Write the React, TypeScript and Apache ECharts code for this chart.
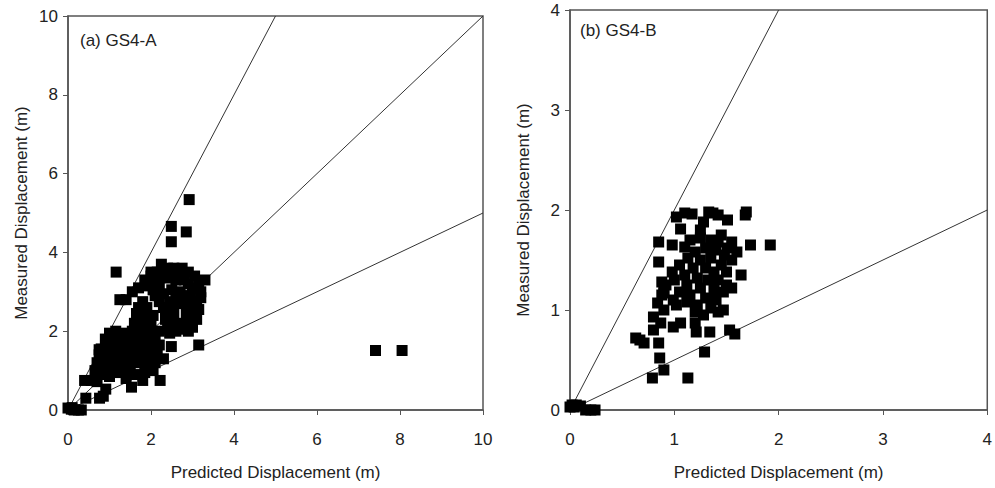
import React, { useEffect, useRef } from "react";
import * as echarts from "echarts";

// Panel (a) GS4-A : [predicted, measured] in metres
const gs4aPoints: [number, number][] = [
  [0, 0.05], [0.08, 0.02], [0.15, 0], [0.25, 0], [0.32, 0], [0.1, 0.06],
  [0.43, 0.3], [0.76, 0.3], [0.85, 0.35], [0.91, 0.53], [0.4, 0.75], [0.56, 0.75], [0.7, 0.72],
  [1.53, 0.58], [2.22, 0.75], [1.8, 0.75], [1.4, 0.8], [1.0, 0.85], [0.75, 0.9],
  [0.65, 1.0], [0.85, 1.05], [1.05, 1.0], [1.25, 0.95], [1.45, 0.95], [1.65, 0.9], [1.85, 0.95], [2.05, 1.0],
  [0.7, 1.2], [0.9, 1.2], [1.1, 1.2], [1.3, 1.2], [1.5, 1.15], [1.7, 1.2], [1.9, 1.2], [2.1, 1.2], [2.3, 1.3],
  [0.75, 1.4], [0.95, 1.4], [1.15, 1.4], [1.35, 1.4], [1.55, 1.4], [1.75, 1.4], [1.95, 1.4], [2.15, 1.45],
  [0.8, 1.55], [1.0, 1.6], [1.2, 1.6], [1.4, 1.6], [1.6, 1.6], [1.8, 1.6], [2.0, 1.6], [2.2, 1.65],
  [0.9, 1.8], [1.1, 1.8], [1.3, 1.8], [1.5, 1.8], [1.7, 1.8], [1.9, 1.8], [2.1, 1.8],
  [1.0, 1.95], [1.15, 2.0], [1.3, 1.95], [1.55, 2.0], [1.75, 2.0], [1.95, 2.05], [2.2, 2.0],
  [1.6, 2.2], [1.8, 2.25], [2.0, 2.25], [1.65, 2.45], [1.85, 2.4], [2.05, 2.4], [1.7, 2.6], [1.9, 2.6], [1.8, 2.75],
  [1.25, 2.8], [1.4, 2.8], [1.55, 3.0], [1.7, 3.1], [1.85, 3.3], [2.0, 3.4], [2.15, 3.5], [2.25, 3.7],
  [2.4, 3.6], [2.6, 3.5], [2.75, 3.6], [2.9, 3.5], [3.05, 3.4], [3.3, 3.3], [3.15, 3.2], [2.2, 3.2],
  [2.4, 3.35], [2.6, 3.3], [2.8, 3.3], [3.0, 3.1], [2.1, 2.9], [2.3, 2.95], [2.5, 3.05], [2.7, 3.0],
  [2.95, 2.9], [3.1, 2.75], [2.3, 2.6], [2.45, 2.75], [2.65, 2.7], [2.85, 2.7], [3.05, 2.5], [2.35, 2.3],
  [2.55, 2.45], [2.95, 2.35], [3.1, 2.3], [2.4, 2.05], [2.6, 2.0], [2.8, 2.1], [3.0, 2.1], [2.85, 2.45],
  [2.0, 3.5], [2.1, 3.3], [2.35, 3.45], [2.55, 3.6], [2.7, 3.4], [2.9, 3.2], [3.2, 3.0], [3.15, 2.55],
  [2.75, 2.2], [2.5, 2.2], [2.35, 2.5], [2.2, 2.75], [2.5, 2.55], [2.6, 2.85], [2.8, 2.9], [3.2, 2.85],
  [3.0, 2.7], [1.95, 3.15], [2.05, 3.05], [2.7, 2.05], [2.9, 2.0], [2.45, 1.95],
  [2.92, 5.34], [2.49, 4.66], [2.49, 4.27], [2.85, 4.52], [1.16, 3.5], [7.41, 1.51], [8.05, 1.51],
  [3.15, 1.65], [2.49, 1.61], [0.75, 1.53],
];

// Panel (b) GS4-B : [predicted, measured] in metres
const gs4bPoints: [number, number][] = [
  [0.0, 0.03], [0.02, 0.05], [0.06, 0.05], [0.1, 0.04], [0.04, 0.03], [0.15, 0.0], [0.2, 0.0], [0.24, 0.0],
  [0.63, 0.72], [0.71, 0.67], [0.67, 0.7], [0.85, 0.67], [0.86, 0.52], [0.9, 0.4], [0.79, 0.32], [1.13, 0.32],
  [1.29, 0.58], [0.8, 0.8], [0.87, 0.87], [0.99, 0.83], [1.06, 0.87], [1.2, 0.87], [1.21, 0.78], [1.34, 0.78],
  [0.8, 0.93], [0.9, 1.0], [0.84, 1.07], [0.9, 1.17], [0.99, 1.1], [1.58, 0.76], [1.53, 0.8],
  [1.02, 1.93], [1.1, 1.97], [1.17, 1.96], [1.33, 1.98], [1.37, 1.97], [1.42, 1.95], [1.51, 1.9],
  [1.69, 1.98], [1.68, 1.95], [1.06, 1.81], [1.28, 1.88], [1.25, 1.8], [0.85, 1.68], [0.98, 1.65],
  [1.1, 1.63], [1.73, 1.65], [1.92, 1.65], [1.45, 1.75], [1.55, 1.68], [1.51, 1.62], [0.85, 1.48],
  [0.88, 1.28], [0.88, 1.15], [0.98, 1.38], [1.64, 1.35], [1.55, 1.22],
  [1.15, 1.7], [1.25, 1.72], [1.35, 1.7], [1.42, 1.68], [1.3, 1.62], [1.4, 1.6], [1.2, 1.58], [1.48, 1.55],
  [1.13, 1.52], [1.25, 1.5], [1.35, 1.52], [1.45, 1.45], [1.05, 1.45], [1.18, 1.42], [1.3, 1.42], [1.38, 1.38],
  [1.5, 1.38], [1.1, 1.35], [1.22, 1.32], [1.32, 1.3], [1.42, 1.3], [1.0, 1.3], [0.92, 1.25], [1.12, 1.25],
  [1.25, 1.22], [1.38, 1.2], [1.47, 1.18], [0.9, 1.2], [1.05, 1.18], [1.15, 1.15], [1.3, 1.12], [1.4, 1.1],
  [1.22, 1.05], [1.35, 1.02], [1.47, 1.0], [1.42, 0.98], [1.2, 0.98], [1.28, 0.95], [1.12, 1.08], [1.02, 1.05],
  [1.5, 1.25], [1.55, 1.5], [1.6, 1.58],
];

// Reference lines (measured = k * predicted)
const gs4aLines: [number, number][][] = [
  [[0, 0], [5, 10]],
  [[0, 0], [10, 10]],
  [[0, 0], [10, 5]],
];
const gs4bLines: [number, number][][] = [
  [[0, 0], [2, 4]],
  [[0, 0], [4, 2]],
];

const panelTitles = ["(a) GS4-A", "(b) GS4-B"];
const xName = "Predicted Displacement (m)";
const yName = "Measured Displacement (m)";

const FONT = "Liberation Sans, Arial, sans-serif";
const AXIS_COLOR = "#555";

function axisCommon(max: number, interval: number, gridIndex: number, isX: boolean) {
  return {
    type: "value" as const,
    gridIndex,
    min: 0,
    max,
    interval,
    name: isX ? xName : yName,
    nameLocation: "middle" as const,
    nameGap: isX ? 54 : 38,
    nameTextStyle: { fontSize: 17, color: "#222", fontFamily: FONT },
    axisLine: { show: true, onZero: false, lineStyle: { color: AXIS_COLOR, width: 1.5 } },
    axisTick: { show: true, inside: false, length: 5, lineStyle: { color: AXIS_COLOR } },
    axisLabel: { fontSize: 17, color: "#222", fontFamily: FONT, margin: isX ? 21 : 10 },
    splitLine: { show: false },
  };
}

export default function App() {
  const ref = useRef<HTMLDivElement>(null);
  useEffect(() => {
    if (!ref.current) return;
    const chart = echarts.init(ref.current, null, { renderer: "svg" });
    const lineSeries = (data: [number, number][], idx: number) => ({
      type: "line" as const,
      xAxisIndex: idx,
      yAxisIndex: idx,
      data,
      symbol: "none",
      silent: true,
      lineStyle: { color: "#333", width: 1 },
      z: 1,
    });
    const scatterSeries = (data: [number, number][], idx: number) => ({
      type: "scatter" as const,
      xAxisIndex: idx,
      yAxisIndex: idx,
      data,
      symbol: "rect",
      symbolSize: 11,
      itemStyle: { color: "#000", opacity: 1 },
      z: 3,
    });
    chart.setOption({
      animation: false,
      backgroundColor: "#fff",
      grid: [
        { left: 68, top: 16, width: 415, height: 394, show: true, borderColor: AXIS_COLOR, borderWidth: 1.5, backgroundColor: "transparent" },
        { left: 570, top: 10, width: 423, height: 400, show: true, borderColor: AXIS_COLOR, borderWidth: 1.5, backgroundColor: "transparent" },
      ],
      xAxis: [axisCommon(10, 2, 0, true), axisCommon(4, 1, 1, true)],
      yAxis: [axisCommon(10, 2, 0, false), axisCommon(4, 1, 1, false)],
      graphic: [
        { type: "text", left: 80, top: 32, style: { text: panelTitles[0], fontSize: 17, fill: "#222", fontFamily: FONT } },
        { type: "text", left: 580, top: 22, style: { text: panelTitles[1], fontSize: 17, fill: "#222", fontFamily: FONT } },
      ],
      series: [
        ...gs4aLines.map((d) => lineSeries(d, 0)),
        ...gs4bLines.map((d) => lineSeries(d, 1)),
        scatterSeries(gs4aPoints, 0),
        scatterSeries(gs4bPoints, 1),
      ],
    });
    return () => chart.dispose();
  }, []);
  return (
    <div
      ref={ref}
      style={{ position: "fixed", left: 0, top: 0, width: 995, height: 488, background: "#fff" }}
    />
  );
}
